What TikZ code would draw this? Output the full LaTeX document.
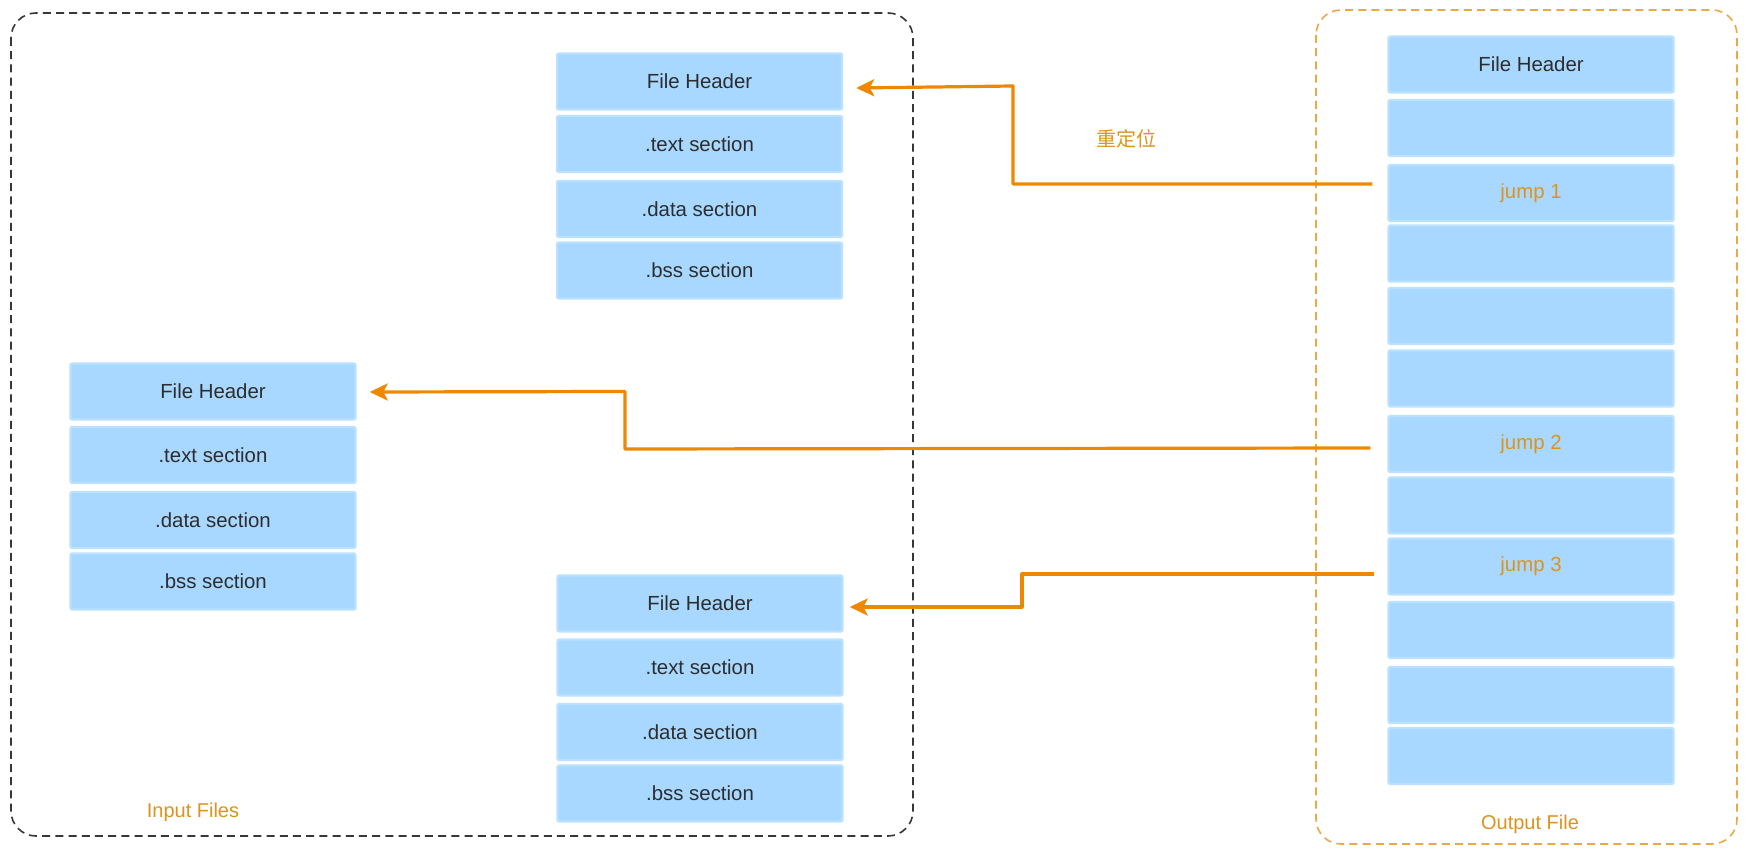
\documentclass[tikz,border=0pt]{standalone}
\usepackage{fontspec}
\setmainfont{Liberation Sans}
\newfontfamily\cjkfont{Noto Sans CJK SC}
\usetikzlibrary{arrows.meta,calc}
\definecolor{boxfill}{RGB}{168,216,255}
\definecolor{boxedge}{RGB}{186,225,255}
\definecolor{ink}{RGB}{45,45,45}
\definecolor{wire}{RGB}{238,136,0}
\definecolor{amber}{RGB}{220,148,30}
\definecolor{amberdash}{RGB}{232,170,72}
\definecolor{frame}{RGB}{55,55,55}
\begin{document}
\begin{tikzpicture}[x=0.5pt,y=-0.5pt,
  sect/.style={rectangle, rounded corners=1pt, fill=boxfill, draw=boxedge,
    line width=1.2pt, minimum width=142.5pt, minimum height=28pt, inner sep=0pt,
    font=\fontsize{10.2}{12}\selectfont, text=ink},
  jumpsect/.style={sect, text=amber},
  caption/.style={font=\fontsize{10}{12}\selectfont, text=amber, inner sep=0pt},
  group/.style={rounded corners=12.5pt, line width=0.8pt, dash pattern=on 4pt off 2.6pt},
  reloc/.style={draw=wire, line width=1.6pt, line join=round,
    -{Stealth[length=9pt, width=8.5pt, inset=2.2pt]}}]

% canvas
\useasboundingbox[fill=white] (0,0) rectangle (1749,854);

% group frames
\draw[group, draw=frame] (11,13) rectangle (913,836);
\draw[group, draw=amberdash] (1316,10) rectangle (1737,844);
\node[caption] (inlabel) at (193,812) {Input Files};
\node[caption] (outlabel) at (1530,824) {Output File};

% input file A (top)
\node[sect] (a0) at (699.5,81.5) {File Header};
\node[sect] (a1) at (699.5,144) {.text section};
\node[sect] (a2) at (699.5,209) {.data section};
\node[sect] (a3) at (699.5,270.5) {.bss section};

% input file B (left)
\node[sect] (b0) at (213,391.5) {File Header};
\node[sect] (b1) at (213,455) {.text section};
\node[sect] (b2) at (213,520) {.data section};
\node[sect] (b3) at (213,581.5) {.bss section};

% input file C (bottom)
\node[sect] (c0) at (700,603.5) {File Header};
\node[sect] (c1) at (700,667.5) {.text section};
\node[sect] (c2) at (700,732) {.data section};
\node[sect] (c3) at (700,793.5) {.bss section};

% output file
\node[sect] (o0) at (1531,64.5) {File Header};
\node[sect] (o1) at (1531,128) {};
\node[jumpsect] (j1) at (1531,193) {jump 1};
\node[sect] (o2) at (1531,253.5) {};
\node[sect] (o3) at (1531,316) {};
\node[sect] (o4) at (1531,378.5) {};
\node[jumpsect] (j2) at (1531,444) {jump 2};
\node[sect] (o5) at (1531,505.5) {};
\node[jumpsect] (j3) at (1531,566.5) {jump 3};
\node[sect] (o6) at (1531,630) {};
\node[sect] (o7) at (1531,695) {};
\node[sect] (o8) at (1531,756) {};

\node[caption, font=\cjkfont\fontsize{10}{12}\selectfont] (rlabel) at (1126,139) {重定位};

% relocation links
\coordinate (s1) at ($(j1.west)+(-15,-9)$);
\coordinate (s2) at ($(j2.west)+(-17,4)$);
\coordinate (s3) at ($(j3.west)+(-13,7.5)$);
\coordinate (t1) at ($(a0.east)+(13,6.5)$);
\coordinate (t2) at ($(b0.east)+(13,0.5)$);
\coordinate (t3) at ($(c0.east)+(6,3.5)$);

\draw[reloc] (s1) -- (1013,184) -- (1013,86) -- (t1);
\draw[reloc] (s2) -- (625,449) -- (625,391.5) -- (t2);
\draw[reloc] (s3) -- (1022,574) -- (1022,607) -- (t3);
\end{tikzpicture}
\end{document}
